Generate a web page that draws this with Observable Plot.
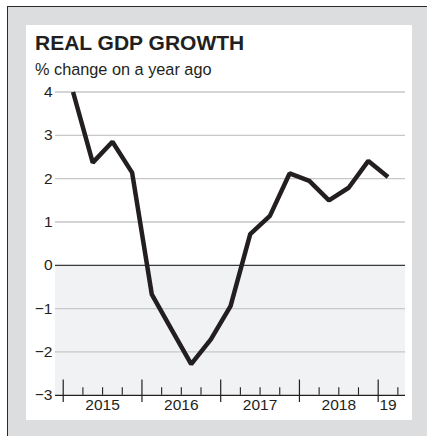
<!DOCTYPE html>
<html>
<head>
<meta charset="utf-8">
<script src="https://cdn.jsdelivr.net/npm/d3@7"></script>
<script src="https://cdn.jsdelivr.net/npm/@observablehq/plot@0.6"></script>
<style>
  html, body { margin: 0; padding: 0; background: #ffffff; }
  #wrap { position: relative; width: 427px; height: 436px; overflow: hidden; font-family: "Liberation Sans", Arial, sans-serif; }
  #outer { position: absolute; left: 7px; top: 6px; right: 0; bottom: 0; background: #dcdddf; border-left: 1.5px solid #2a2a2a; border-top: 1.5px solid #2a2a2a; }
  #panel { position: absolute; left: 26px; top: 25px; width: 386px; height: 395px; background: #ffffff; }
  #title { position: absolute; left: 35px; top: 33px; font-size: 21px; line-height: 20px; font-weight: bold; color: #231f20; white-space: nowrap; }
  #subtitle { position: absolute; left: 35px; top: 61px; font-size: 16.3px; line-height: 16px; color: #231f20; white-space: nowrap; }
  #chart { position: absolute; left: 0; top: 0; }
</style>
</head>
<body>
<div id="wrap">
  <div id="outer"></div>
  <div id="panel"></div>
  <div id="title">REAL GDP GROWTH</div>
  <div id="subtitle">% change on a year ago</div>
  <div id="chart"></div>
</div>
<script>
// Data: quarterly real GDP growth, % change on a year ago
const quarterYears = [2015, 2015, 2015, 2015, 2016, 2016, 2016, 2016, 2017, 2017, 2017, 2017, 2018, 2018, 2018, 2018, 2019];
const quarterNums  = [1, 2, 3, 4, 1, 2, 3, 4, 1, 2, 3, 4, 1, 2, 3, 4, 1];
const growth       = [4.0, 2.37, 2.85, 2.14, -0.67, -1.48, -2.28, -1.71, -0.94, 0.72, 1.14, 2.12, 1.95, 1.5, 1.79, 2.41, 2.04];

const yTicks = [-3, -2, -1, 0, 1, 2, 3, 4];
const yearBounds = [2015, 2016, 2017, 2018, 2019];
const xLabels = ["2015", "2016", "2017", "2018", "19"];
const xLabelPos = [2015.5, 2016.5, 2017.5, 2018.5, 2019.125];

const xDomain = [2014.902, 2019.347];
const yDomain = [-3, 4];

const data = growth.map((v, i) => ({ t: quarterYears[i] + (quarterNums[i] - 0.5) / 4, v }));
const minorTicks = [];
for (const y of yearBounds) for (const q of [1, 2, 3]) {
  const t = y + q / 4;
  if (t < xDomain[1]) minorTicks.push(t);
}
const labelMap = new Map(xLabelPos.map((p, i) => [p, xLabels[i]]));

const chart = Plot.plot({
  width: 427,
  height: 436,
  marginLeft: 55,
  marginRight: 22,
  marginTop: 91.5,
  marginBottom: 41.2,
  x: { domain: xDomain },
  y: { domain: yDomain },
  style: { fontFamily: '"Liberation Sans", Arial, sans-serif', fontSize: "15px", color: "#231f20", background: "transparent", overflow: "visible" },
  marks: [
    Plot.rect([0], { x1: xDomain[0], x2: xDomain[1], y1: yDomain[0], y2: 0, fill: "#f1f2f4" }),
    Plot.ruleY(yTicks.filter(d => d !== 0 && d !== yDomain[0]), { stroke: "#c6c7c9", strokeWidth: 1.3 }),
    Plot.ruleY([0], { stroke: "#3a3a3a", strokeWidth: 1.2 }),
    Plot.ruleY([yDomain[0]], { stroke: "#231f20", strokeWidth: 1.2 }),
    Plot.axisY(yTicks, { tickSize: 0, tickPadding: 3, fontSize: 15.5, label: null }),
    Plot.axisX(yearBounds, { tickSize: 22.5, dy: -15.3, fill: "none", label: null, strokeWidth: 1.2 }),
    Plot.axisX(minorTicks, { tickSize: 7.5, dy: -7.5, fill: "none", label: null, strokeWidth: 1.1 }),
    Plot.axisX(xLabelPos, { tickSize: 0, tickPadding: 3.2, fontSize: 15.5, label: null, tickFormat: d => labelMap.get(d) }),
    Plot.line(data, { x: "t", y: "v", stroke: "#231f20", strokeWidth: 4.5, strokeLinejoin: "miter", strokeLinecap: "butt" })
  ]
});
document.getElementById("chart").appendChild(chart);
</script>
</body>
</html>
